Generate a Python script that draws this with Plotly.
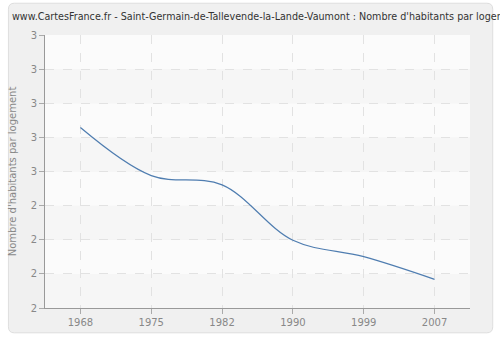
import plotly.graph_objects as go

years = ["1968", "1975", "1982", "1990", "1999", "2007"]
values = [2.661, 2.485, 2.451, 2.248, 2.188, 2.105]
ytick_vals = [2.0, 2.125, 2.25, 2.375, 2.5, 2.625, 2.75, 2.875, 3.0]
ytick_text = ["2", "2", "2", "2", "3", "3", "3", "3", "3"]

W, H = 500, 340
ML, MR, MT, MB = 40, 30, 35, 30
pw, ph = W - ML - MR, H - MT - MB

def px2x(px):
    return (px - ML) / pw

def py2y(py):
    return (H - MB - py) / ph

# rounded panel
x0, x1 = px2x(3), px2x(493)
y0, y1 = py2y(335), py2y(3)
rx, ry = 6 / pw, 6 / ph
path = (f"M {x0+rx},{y1} L {x1-rx},{y1} Q {x1},{y1} {x1},{y1-ry} "
        f"L {x1},{y0+ry} Q {x1},{y0} {x1-rx},{y0} L {x0+rx},{y0} "
        f"Q {x0},{y0} {x0},{y0+ry} L {x0},{y1-ry} Q {x0},{y1} {x0+rx},{y1} Z")

shapes = [dict(type="path", xref="paper", yref="paper", path=path,
               fillcolor="#f0f0f0", line=dict(color="#dedede", width=1), layer="below")]
# alternating bands
for i in range(0, len(ytick_vals) - 1):
    shapes.append(dict(type="rect", xref="paper", yref="y", x0=0, x1=1,
                       y0=ytick_vals[i], y1=ytick_vals[i + 1],
                       fillcolor="#f6f6f6" if i % 2 == 0 else "#fbfbfb",
                       line=dict(width=0), layer="below"))

fig = go.Figure()
fig.add_trace(go.Scatter(x=years, y=values, mode="lines",
                         line=dict(color="#4f7db0", width=1.2, shape="spline", smoothing=1.0),
                         hoverinfo="skip"))

fig.update_layout(
    width=W, height=H,
    margin=dict(l=ML, r=MR, t=MT, b=MB),
    paper_bgcolor="#ffffff",
    plot_bgcolor="rgba(0,0,0,0)",
    showlegend=False,
    shapes=shapes,
    title=dict(text="www.CartesFrance.fr - Saint-Germain-de-Tallevende-la-Lande-Vaumont : Nombre d'habitants par logement",
               x=12 / W, xref="container", xanchor="left", y=1 - 17 / H, yref="container", yanchor="middle",
               pad=dict(l=0, r=0, t=0, b=0),
               font=dict(family="DejaVu Sans", size=9.6, color="#333333")),
    xaxis=dict(type="category", range=[-0.5, 5.5], showgrid=True, gridcolor="#e2e2e2", griddash="dash",
               gridwidth=1, showline=True, linecolor="#999999", linewidth=1,
               ticks="outside", ticklen=5, tickcolor="#aaaaaa",
               tickfont=dict(family="DejaVu Sans", size=10, color="#888888"), zeroline=False,
               fixedrange=True),
    yaxis=dict(range=[2.0, 3.0], tickvals=ytick_vals, ticktext=ytick_text, showgrid=True,
               gridcolor="#e2e2e2", griddash="dash", gridwidth=1, showline=True,
               linecolor="#999999", linewidth=1, ticks="outside", ticklen=5, tickcolor="#aaaaaa",
               tickfont=dict(family="DejaVu Sans", size=10, color="#888888"), zeroline=False,
               title=dict(text="Nombre d'habitants par logement", standoff=12,
                          font=dict(family="DejaVu Sans", size=10, color="#888888"))),
)

fig.write_html("out.html")
